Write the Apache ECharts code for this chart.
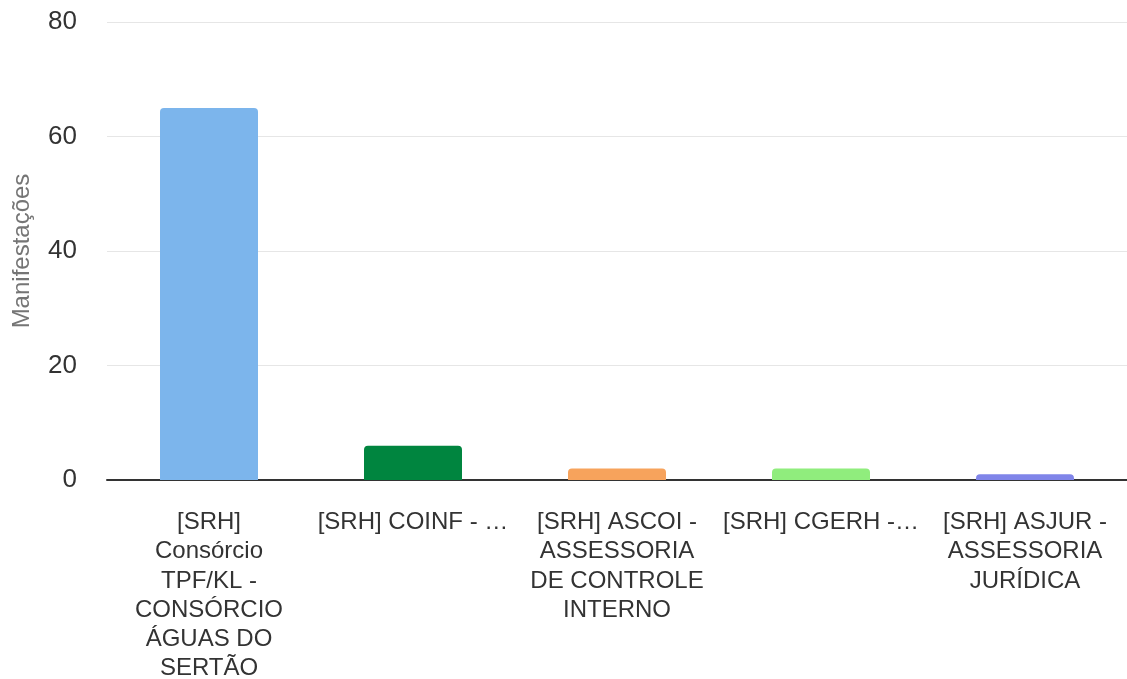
<!DOCTYPE html>
<html>
<head>
<meta charset="utf-8">
<script src="https://cdn.jsdelivr.net/npm/echarts@6/dist/echarts.min.js"></script>
<style>
    html, body { margin: 0; padding: 0; background: #fff; }
    #chart { width: 1127px; height: 679px; }
</style>
</head>
<body>
<div id="chart"></div>
<script>
    var categories = [
        '[SRH]\nConsórcio\nTPF/KL -\nCONSÓRCIO\nÁGUAS DO\nSERTÃO',
        '[SRH] COINF - …',
        '[SRH] ASCOI -\nASSESSORIA\nDE CONTROLE\nINTERNO',
        '[SRH] CGERH -…',
        '[SRH] ASJUR -\nASSESSORIA\nJURÍDICA'
    ]
    var values = [65, 6, 2, 2, 1]
    var colors = ['#7cb5ec', '#00853f', '#f7a35c', '#90ed7d', '#8085e9']
    var yTicks = [0, 20, 40, 60, 80]

    var chart = echarts.init(document.getElementById('chart'))
    chart.setOption({
        animation: false,
        grid: {
            top: 22,
            left: 107,
            right: 0,
            bottom: 199,
            containLabel: false,
            outerBoundsMode: 'none'
        },
        xAxis: {
            type: 'category',
            data: categories,
            axisLine: {lineStyle: {color: '#333', width: 2}},
            axisTick: {show: false},
            axisLabel: {
                interval: 0,
                margin: 28,
                fontFamily: 'Liberation Sans',
                fontSize: 24,
                lineHeight: 29.2,
                color: '#333'
            }
        },
        yAxis: {
            type: 'value',
            min: yTicks[0],
            max: yTicks[yTicks.length - 1],
            interval: 20,
            name: 'Manifestações',
            nameLocation: 'middle',
            nameGap: 73,
            nameTextStyle: {fontFamily: 'Liberation Sans', fontSize: 24, color: '#757575'},
            axisLine: {show: false},
            axisTick: {show: false},
            axisLabel: {margin: 30, fontFamily: 'Liberation Sans', fontSize: 26, color: '#333'},
            splitLine: {lineStyle: {color: '#e6e6e6', width: 1}}
        },
        series: [{
            type: 'bar',
            barWidth: 98,
            data: values.map(function (v, i) {
                return {value: v, itemStyle: {color: colors[i], borderRadius: [4, 4, 0, 0]}}
            })
        }]
    })
</script>
</body>
</html>
